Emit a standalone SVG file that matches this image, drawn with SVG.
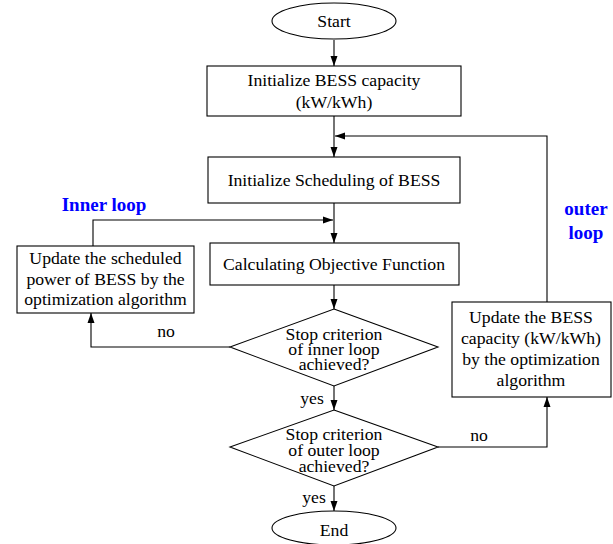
<svg xmlns="http://www.w3.org/2000/svg" width="613" height="544" viewBox="0 0 613 544">
<style>
.s{fill:#fff;stroke:#000;stroke-width:1.1}
.c{fill:none;stroke:#000;stroke-width:1.1}
text{font-family:"Liberation Serif","Times New Roman",serif;font-size:17.7px;fill:#000;text-anchor:middle}
.b{font-weight:bold;fill:#0000ff;font-size:19px}
</style>
<defs>
<marker id="a" markerUnits="userSpaceOnUse" markerWidth="10" markerHeight="8" refX="10" refY="4" orient="auto">
<path d="M0,0.5 L10,4 L0,7.5 z" fill="#000"/>
</marker>
</defs>
<rect width="613" height="544" fill="#fff"/>
<g id="connectors">
<path class="c" d="M334,40 L334,66" marker-end="url(#a)"/>
<path class="c" d="M334,116 L334,157" marker-end="url(#a)"/>
<path class="c" d="M547,302 L547,136 L335,136" marker-end="url(#a)"/>
<path class="c" d="M334,203 L334,243" marker-end="url(#a)"/>
<path class="c" d="M93,246 L93,220 L333,220" marker-end="url(#a)"/>
<path class="c" d="M334,285 L334,309" marker-end="url(#a)"/>
<path class="c" d="M230,347 L91,347 L91,313" marker-end="url(#a)"/>
<path class="c" d="M334,386 L334,410" marker-end="url(#a)"/>
<path class="c" d="M438,447 L547,447 L547,397" marker-end="url(#a)"/>
<path class="c" d="M334,486 L334,511" marker-end="url(#a)"/>
<text x="166" y="337">no</text>
<text x="312" y="404">yes</text>
<text x="479" y="441">no</text>
<text x="314" y="503">yes</text>
</g>
<g id="start">
<ellipse class="s" cx="334" cy="21" rx="62" ry="18"/>
<text x="334" y="27">Start</text>
</g>
<g id="init-capacity">
<rect class="s" x="207" y="66" width="254" height="50"/>
<text x="334" y="86">Initialize BESS capacity</text>
<text x="334" y="108">(kW/kWh)</text>
</g>
<g id="init-scheduling">
<rect class="s" x="208" y="157" width="252" height="46"/>
<text x="334" y="186">Initialize Scheduling of BESS</text>
</g>
<g id="calc-objective">
<rect class="s" x="210" y="243" width="249" height="42"/>
<text x="334" y="270">Calculating Objective Function</text>
</g>
<g id="update-power">
<rect class="s" x="17" y="246" width="177" height="67"/>
<text x="105.5" y="264">Update the scheduled</text>
<text x="105.5" y="285">power of BESS by the</text>
<text x="105.5" y="305">optimization algorithm</text>
</g>
<g id="inner-criterion">
<path class="s" d="M334,309 L438,347 L334,386 L230,347 z"/>
<text x="334" y="340">Stop criterion</text>
<text x="334" y="355">of inner loop</text>
<text x="334" y="370">achieved?</text>
</g>
<g id="outer-criterion">
<path class="s" d="M334,410 L438,447 L334,486 L230,447 z"/>
<text x="334" y="440">Stop criterion</text>
<text x="334" y="456">of outer loop</text>
<text x="334" y="472">achieved?</text>
</g>
<g id="update-capacity">
<rect class="s" x="452" y="302" width="159" height="95"/>
<text x="531" y="323">Update the BESS</text>
<text x="531" y="344">capacity (kW/kWh)</text>
<text x="531" y="365">by the optimization</text>
<text x="531" y="386">algorithm</text>
</g>
<g id="end">
<ellipse class="s" cx="334" cy="528" rx="62" ry="17"/>
<text x="334" y="536">End</text>
</g>
<g id="labels">
<text class="b" x="104" y="211">Inner loop</text>
<text class="b" x="586" y="215">outer</text>
<text class="b" x="586" y="239">loop</text>
</g>
</svg>
